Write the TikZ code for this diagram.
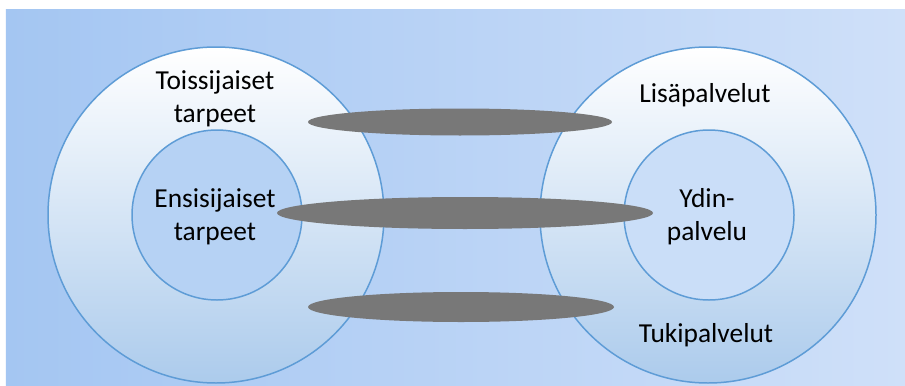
\documentclass[tikz,border=0pt]{standalone}
\usepackage{fontspec}
\setmainfont{Carlito}
\usetikzlibrary{positioning,shapes.geometric}
\definecolor{BgLeft}{RGB}{164,198,242}
\definecolor{BgRight}{RGB}{207,224,249}
\definecolor{RingBlue}{RGB}{172,203,236}
\definecolor{RingEdge}{RGB}{94,156,214}
\definecolor{CoreLeft}{RGB}{182,210,244}
\definecolor{CoreRight}{RGB}{202,222,248}
\definecolor{LinkGray}{RGB}{120,120,120}
\tikzset{
  ring/.style={circle, draw=RingEdge, line width=0.85pt, minimum size=6.72cm, inner sep=0pt, top color=white, bottom color=RingBlue},
  core/.style={circle, draw=RingEdge, line width=0.85pt, minimum size=3.4cm, inner sep=0pt},
  link/.style={ellipse, fill=LinkGray, inner sep=0pt},
  lbl/.style={align=center, inner sep=0pt, font=\fontsize{15.6}{18.8}\selectfont}
}

\begin{document}
\begin{tikzpicture}
% canvas and background
\fill[white] (0,0) rectangle (18.1,7.7);
\useasboundingbox (0,0) rectangle (18.1,7.7);
\shade[left color=BgLeft, right color=BgRight] (0.12,0) rectangle (18.1,7.5);

% needs (left) and services (right)
\node[ring] (needs) at (4.32,3.4) {};
\node[core, fill=CoreLeft] (primary) at (4.34,3.4) {};
\node[ring] (services) at (14.16,3.4) {};
\node[core, fill=CoreRight] (core) at (14.18,3.4) {};

% links between the two sides
\node[link, minimum width=6.08cm, minimum height=0.54cm] (toplink) at (9.2,5.26) {};
\node[link, minimum width=7.52cm, minimum height=0.64cm] (midlink) at (9.3,3.44) {};
\node[link, minimum width=6.12cm, minimum height=0.6cm] (botlink) at (9.22,1.56) {};

% texts
\node[lbl] (secondarytxt) at (4.3,5.72) {Toissijaiset\\tarpeet};
\node[lbl] (primarytxt) at (4.3,3.36) {Ensisijaiset\\tarpeet};
\node[lbl] (extratxt) at (14.1,5.8) {Lisäpalvelut};
\node[lbl] (coretxt) at (14.14,3.36) {Ydin-\\palvelu};
\node[lbl] (supporttxt) at (14.12,1.0) {Tukipalvelut};
\end{tikzpicture}
\end{document}
